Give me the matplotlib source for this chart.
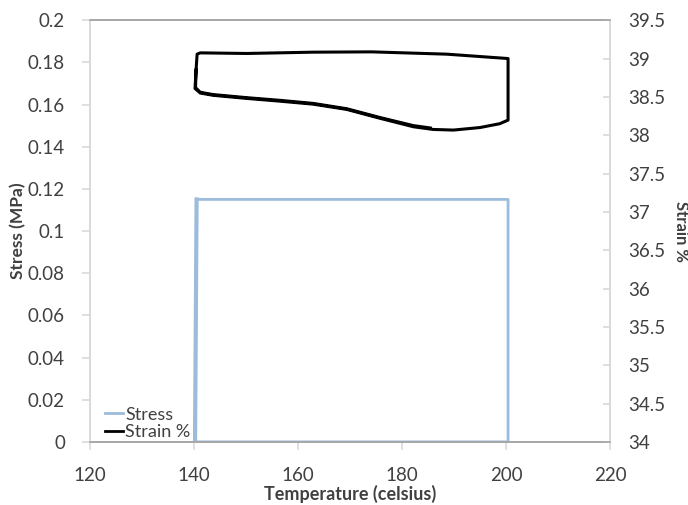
import numpy as np
import matplotlib.pyplot as plt
from matplotlib.lines import Line2D

plt.rcParams['font.family'] = ['Lato', 'DejaVu Sans']

# stress trace (MPa) vs temperature
stress_temp = [140.2, 140.5, 200.4, 200.4, 140.3]
stress = [0.0, 0.115, 0.115, 0.0, 0.0]

# strain trace (%) vs temperature
strain_temp = [185.4, 182.2, 175.8, 169.4, 162.9, 156.5, 150.1, 143.7, 141.2, 140.3,
               140.4, 140.6, 141.2, 150.1, 162.9, 174.2, 188.6, 200.4,
               200.4, 198.8, 195.0, 189.9, 186.0, 182.2, 175.8, 169.4, 162.9,
               156.5, 150.1, 143.7, 141.2, 140.2, 140.4]
strain = [38.095, 38.125, 38.23, 38.345, 38.415, 38.455, 38.49, 38.53, 38.56, 38.62,
          38.85, 39.057, 39.074, 39.066, 39.083, 39.087, 39.057, 39.0,
          38.197, 38.15, 38.10, 38.067, 38.075, 38.11, 38.22, 38.336, 38.405,
          38.444, 38.48, 38.52, 38.55, 38.61, 38.85]

x_ticks = [120, 140, 160, 180, 200, 220]
stress_ticks = [0, 0.02, 0.04, 0.06, 0.08, 0.1, 0.12, 0.14, 0.16, 0.18, 0.2]
strain_ticks = [34, 34.5, 35, 35.5, 36, 36.5, 37, 37.5, 38, 38.5, 39, 39.5]

stress_color = '#9DBBDB'
text_color = '#404040'
dark_spine = '#A6A6A6'
light_spine = '#D9D9D9'

fig = plt.figure(figsize=(6.88, 5.05), dpi=100)
ax = fig.add_axes([0.1308, 0.125, 0.7558, 0.835])
ax2 = ax.twinx()

ax.plot(stress_temp, stress, color=stress_color, lw=2.0)
ax.plot(stress_temp[:2], stress[:2], color=stress_color, lw=3.0)
ax2.plot(strain_temp, strain, color='black', lw=2.2)

ax.set_xlim(120, 220)
ax.set_ylim(0, 0.2)
ax2.set_ylim(34, 39.5)
ax.set_xticks(x_ticks)
ax.set_yticks(stress_ticks)
ax.set_yticklabels(['0', '0.02', '0.04', '0.06', '0.08', '0.1', '0.12', '0.14', '0.16', '0.18', '0.2'])
ax2.set_yticks(strain_ticks)
ax2.set_yticklabels(['34', '34.5', '35', '35.5', '36', '36.5', '37', '37.5', '38', '38.5', '39', '39.5'])

for a in (ax, ax2):
    a.spines['top'].set_color(dark_spine)
    a.spines['bottom'].set_color(dark_spine)
    a.spines['left'].set_color(light_spine)
    a.spines['right'].set_color(light_spine)
    for s in a.spines.values():
        s.set_linewidth(1.2)

ax.tick_params(axis='x', colors=light_spine, labelcolor=text_color, labelsize=13.5,
               length=6, width=1.2, pad=12)
ax.tick_params(axis='y', colors=light_spine, labelcolor=text_color, labelsize=13.5,
               length=6, width=1.2, pad=12)
ax2.tick_params(axis='y', colors=light_spine, labelcolor=text_color, labelsize=13.5,
                length=5, width=1.2, pad=13, direction='in')

ax.set_xlabel('Temperature (celsius)', fontsize=13, fontweight='bold', color=text_color, labelpad=1)
ax.set_ylabel('Stress (MPa)', fontsize=12.5, fontweight='bold', color=text_color, labelpad=1)
ax2.set_ylabel('Strain %', fontsize=12, fontweight='bold', color=text_color, rotation=270,
               va='center')
ax2.yaxis.set_label_coords(1.137, 0.5)

handles = [Line2D([0], [0], color=stress_color, lw=2.0),
           Line2D([0], [0], color='black', lw=2.0)]
ax2.legend(handles, ['Stress', 'Strain %'], loc='lower left', bbox_to_anchor=(-0.003, -0.035),
           frameon=False, fontsize=13, handlelength=1.0, handletextpad=0.15,
           labelspacing=0.1, labelcolor=text_color)

fig.savefig('out.png', dpi=100)
